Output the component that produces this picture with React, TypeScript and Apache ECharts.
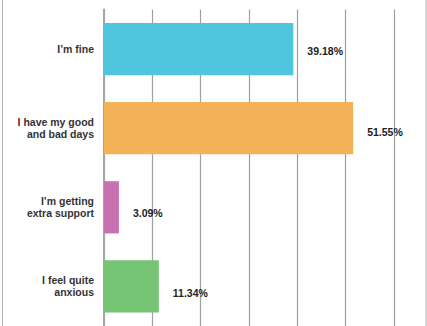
import React, { useEffect, useRef } from "react";
import * as echarts from "echarts";

const categories = [
  "I’m fine",
  "I have my good\nand bad days",
  "I’m getting\nextra support",
  "I feel quite\nanxious",
];
const values = [39.18, 51.55, 3.09, 11.34];
const colors = ["#4FC6DE", "#F3B257", "#C970B0", "#74C474"];
const labelOffsets = [2, 4, 6, 7];

export default function App() {
  const ref = useRef<HTMLDivElement>(null);
  useEffect(() => {
    document.body.style.margin = "0";
    const chart = echarts.init(ref.current!, null, { renderer: "svg" });
    chart.setOption({
      animation: false,
      backgroundColor: "#fff",
      grid: { left: 104, right: 33, top: 9.5, height: 321.5, containLabel: false },
      xAxis: {
        type: "value",
        min: 0,
        max: 60,
        interval: 10,
        axisLabel: { show: false },
        axisLine: { show: false },
        axisTick: { show: false },
        splitLine: { show: true, lineStyle: { color: "#a0a0a0", width: 1.2 } },
      },
      yAxis: {
        type: "category",
        inverse: true,
        data: categories,
        axisLine: { show: true, lineStyle: { color: "#a6a6a6", width: 2 } },
        axisTick: { show: false },
        axisLabel: {
          margin: 10,
          align: "right",
          fontFamily: "Liberation Sans, Arial, sans-serif",
          fontWeight: "bold",
          fontSize: 10.5,
          lineHeight: 12,
          color: "#333",
          padding: [4, 0, 0, 0],
        },
      },
      graphic: [
        { type: "line", shape: { x1: 2.5, y1: 0, x2: 2.5, y2: 326 }, style: { stroke: "#b0b0b0", lineWidth: 1 } },
        { type: "line", shape: { x1: 426, y1: 0, x2: 426, y2: 326 }, style: { stroke: "#b0b0b0", lineWidth: 1 } },
      ],
      series: [
        {
          type: "bar",
          barCategoryGap: "34%",
          data: values.map((v, i) => ({
            value: v,
            itemStyle: { color: colors[i] },
            label: { offset: [0, labelOffsets[i]] },
          })),
          label: {
            show: true,
            position: "right",
            distance: 14,
            formatter: (p: any) => p.value.toFixed(2) + "%",
            fontFamily: "Liberation Sans, Arial, sans-serif",
            fontWeight: "bold",
            fontSize: 10.5,
            color: "#222",
          },
        },
      ],
    });
    return () => chart.dispose();
  }, []);
  return <div ref={ref} style={{ width: 427, height: 326, overflow: "hidden" }} />;
}
